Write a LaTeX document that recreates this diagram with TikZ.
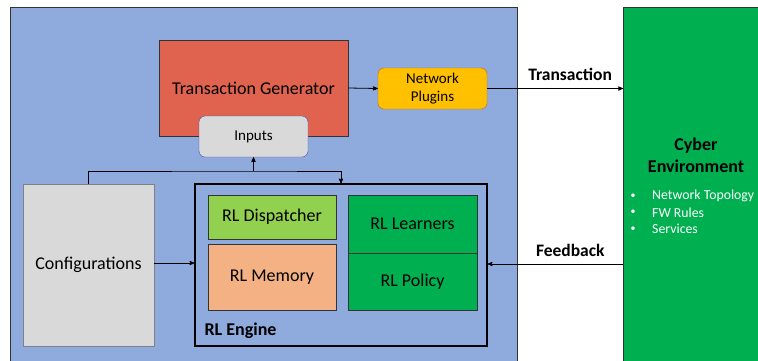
\documentclass[tikz,border=0pt]{standalone}
\usepackage{fontspec}
\setmainfont{Carlito}
\usetikzlibrary{arrows,positioning}

\definecolor{paneblue}{HTML}{8FAADC}
\definecolor{genred}{HTML}{DF634F}
\definecolor{plugyellow}{HTML}{FFC000}
\definecolor{cfggray}{HTML}{D9D9D9}
\definecolor{dispgreen}{HTML}{92D050}
\definecolor{memsalmon}{HTML}{F4B183}
\definecolor{envgreen}{HTML}{00B050}

\begin{document}
\begin{tikzpicture}[x=1pt,y=-1pt,
	blk/.style={draw=black!80,inner sep=0pt,font=\fontsize{18}{21}\selectfont},
	pill/.style={draw,rounded corners=6pt,inner sep=0pt,align=center,font=\fontsize{15}{18}\selectfont},
	flowlbl/.style={above=4pt,xshift=15pt,font=\bfseries\fontsize{17.5}{20}\selectfont}]
	\clip (0,0) rectangle (758,360);
	
	\node[draw=black!80,fill=paneblue,minimum width=507pt,minimum height=360pt,anchor=north west](Pane) at (10,7) {};
	\node[draw=black!80,fill=envgreen,minimum width=140pt,minimum height=360pt,anchor=north west](Env) at (623,7) {};
	
	\node[blk,fill=genred,minimum width=189pt,minimum height=96pt](Gen) at (253.5,88) {Transaction Generator};
	\node[pill,draw=blue!45!gray,fill=cfggray,minimum width=109pt,minimum height=41pt](Inp) at (253.5,136.5) {Inputs};
	\node[pill,draw=orange!80!black,fill=plugyellow,minimum width=109pt,minimum height=41pt](Plug) at (432.5,88.5) {Network\\Plugins};
	
	\node[blk,draw=gray,fill=cfggray,minimum width=131pt,minimum height=162pt](Cfg) at (88.5,265) {Configurations};
	\node[blk,draw=black,line width=1.2pt,minimum width=292pt,minimum height=162pt](Eng) at (341,265) {};
	\node[font=\bfseries\fontsize{18}{21}\selectfont,anchor=west](EngLbl) at (201,331) {RL Engine};
	
	\node[blk,fill=dispgreen,minimum width=128pt,minimum height=44pt](Disp) at (272,217) {RL Dispatcher};
	\node[blk,fill=memsalmon,minimum width=128pt,minimum height=66pt](Mem) at (272,277) {RL Memory};
	\node[blk,fill=envgreen,minimum width=129pt,minimum height=58pt](Lrn) at (412.5,224) {RL Learners};
	\node[blk,fill=envgreen,minimum width=129pt,minimum height=57pt](Pol) at (412.5,281.5) {RL Policy};
	
	\node[font=\bfseries\fontsize{18}{22}\selectfont,align=center](EnvLbl) at (696,155.5) {Cyber\\Environment};
	\foreach \t [count=\n] in {Network Topology,FW Rules,Services}
		{
		\node[text=white,font=\fontsize{13.8}{16}\selectfont,anchor=west,inner sep=0pt](B\n) at (652,179.5+\n*16.5) {\t};
		\node[text=white,font=\fontsize{10}{12}\selectfont,inner sep=0pt] at (633,179.5+\n*16.5) {\textbullet};
		}
	
	\coordinate (bus) at (Inp.south |- 0,171);
	
	\path[->,>=stealth',thick]
		(Gen.east) edge node {} (Plug.west)
		(Plug.east) edge node[flowlbl] {Transaction} (Plug.east -| Env.west)
		(Cfg.east |- 0,263) edge node {} (Eng.west |- 0,263)
		(Env.west |- 0,264) edge node[flowlbl] {Feedback} (Eng.east |- 0,264)
		(bus) edge node {} (Inp.south);
	\draw[->,>=stealth',thick] (Cfg.north) |- (bus) -| (Eng.north);
\end{tikzpicture}
\end{document}
